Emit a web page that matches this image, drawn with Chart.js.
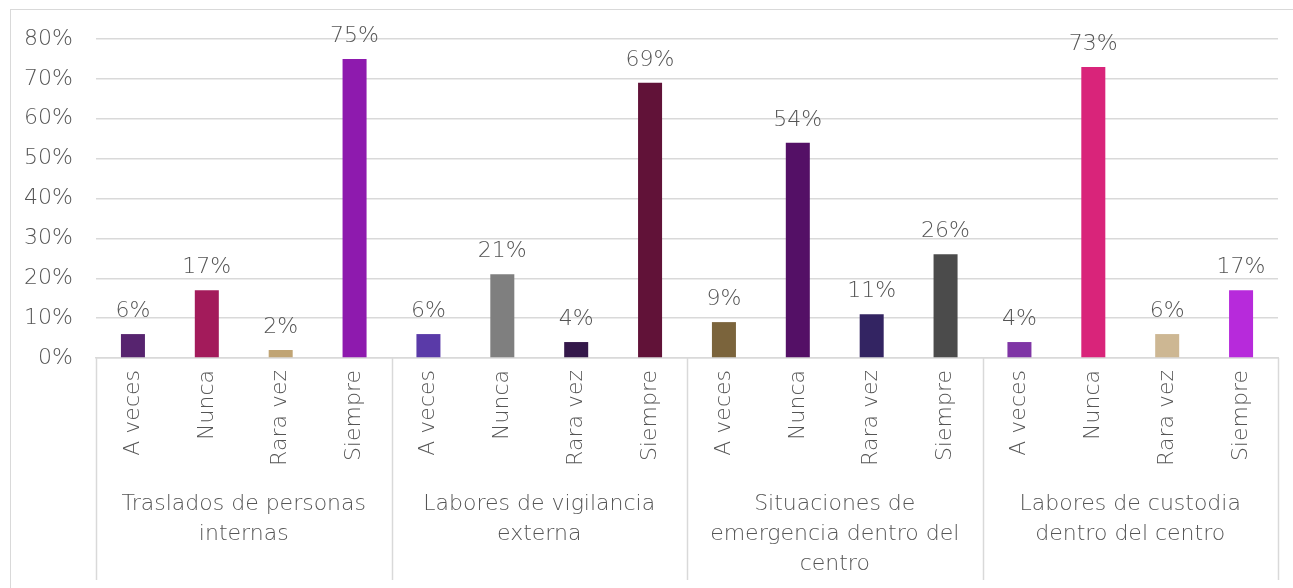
<!DOCTYPE html>
<html>
<head>
<meta charset="utf-8">
<script src="https://cdn.jsdelivr.net/npm/chart.js@4/dist/chart.umd.min.js"></script>
<style>
	html, body { margin: 0; padding: 0; background: #fff; overflow: hidden; }
	#frame { position: absolute; left: 10px; top: 9px; width: 1300px; height: 600px; border: 1px solid #d9d9d9; }
	#chart { position: absolute; left: 0; top: 0; }
</style>
</head>
<body>
<div id="frame"></div>
<canvas id="chart" width="1293" height="588"></canvas>
<script>
const groupNames = [
	['Traslados de personas', 'internas'],
	['Labores de vigilancia', 'externa'],
	['Situaciones de', 'emergencia dentro del', 'centro'],
	['Labores de custodia', 'dentro del centro']
];
const answers = ['A veces', 'Nunca', 'Rara vez', 'Siempre'];

const traslados = [6, 17, 2, 75];
const vigilancia = [6, 21, 4, 69];
const emergencia = [9, 54, 11, 26];
const custodia = [4, 73, 6, 17];

const barColors = [
	'#57246f', '#a31b5b', '#c0a474', '#8e1aae',
	'#5a3aa8', '#7f7f7f', '#34184a', '#611238',
	'#7b643c', '#541066', '#332462', '#4b4b4b',
	'#7f35a5', '#d9247a', '#cdb793', '#b72adb'
];

const yTicks = [0, 10, 20, 30, 40, 50, 60, 70, 80];

const FONT = '"DejaVu Sans", sans-serif';
const TEXT = '#555555';
const LINE = '#d9d9d9';
const SIZE = 22;

// value labels above each bar
const valueLabels = {
	id: 'valueLabels',
	afterDatasetsDraw(chart) {
		const ctx = chart.ctx;
		const meta = chart.getDatasetMeta(0);
		const data = chart.data.datasets[0].data;
		ctx.save();
		ctx.font = '300 ' + SIZE + 'px ' + FONT;
		ctx.fillStyle = TEXT;
		ctx.textAlign = 'center';
		ctx.textBaseline = 'alphabetic';
		meta.data.forEach((bar, i) => {
			ctx.fillText(data[i] + '%', bar.x, bar.y - 17);
		});
		ctx.restore();
	}
};

// vertical separators between the groups, below the axis
const groupLines = {
	id: 'groupLines',
	afterDraw(chart) {
		const x = chart.scales.x;
		const ctx = chart.ctx;
		ctx.save();
		ctx.strokeStyle = LINE;
		ctx.lineWidth = 1.5;
		for (let b = 0; b <= x.getLabels().length; b += answers.length) {
			const px = Math.round(x.getPixelForValue(b - 0.5)) + 0.5;
			ctx.beginPath();
			ctx.moveTo(px, x.top);
			ctx.lineTo(px, chart.height - 8);
			ctx.stroke();
		}
		ctx.restore();
	}
};

const labels = groupNames.flatMap(() => answers);
const values = [...traslados, ...vigilancia, ...emergencia, ...custodia];

const tickFont = { family: FONT, size: SIZE, weight: 300 };

new Chart(document.getElementById('chart').getContext('2d'), {
	type: 'bar',
	data: {
		labels: labels,
		datasets: [{
			data: values,
			backgroundColor: barColors,
			categoryPercentage: 1,
			barPercentage: 0.325
		}]
	},
	options: {
		responsive: false,
		animation: false,
		layout: { padding: { left: 10, top: 39, right: 15, bottom: 0 } },
		plugins: {
			legend: { display: false },
			tooltip: { enabled: false }
		},
		scales: {
			y: {
				min: 0,
				max: 80,
				afterFit: scale => { scale.width = 86; },
				afterBuildTicks: scale => { scale.ticks = yTicks.map(v => ({ value: v })); },
				ticks: {
					padding: 23,
					color: TEXT,
					font: tickFont,
					callback: v => v + '%'
				},
				grid: { color: LINE, lineWidth: 1.5, drawTicks: false },
				border: { display: false }
			},
			x: {
				weight: 0,
				afterFit: scale => { scale.height = 125; },
				ticks: {
					autoSkip: false,
					minRotation: 90,
					maxRotation: 90,
					padding: 12,
					color: TEXT,
					font: tickFont
				},
				grid: { display: false, drawTicks: false },
				border: { display: true, color: LINE, width: 1.5 }
			},
			x2: {
				type: 'category',
				position: 'bottom',
				weight: 1,
				labels: groupNames,
				afterFit: scale => { scale.height = 105; },
				ticks: {
					autoSkip: false,
					maxRotation: 0,
					padding: 6,
					color: TEXT,
					font: { family: FONT, size: SIZE, weight: 300, lineHeight: 1.36 }
				},
				grid: { display: false, drawTicks: false },
				border: { display: false }
			}
		}
	},
	plugins: [valueLabels, groupLines]
});
</script>
</body>
</html>
